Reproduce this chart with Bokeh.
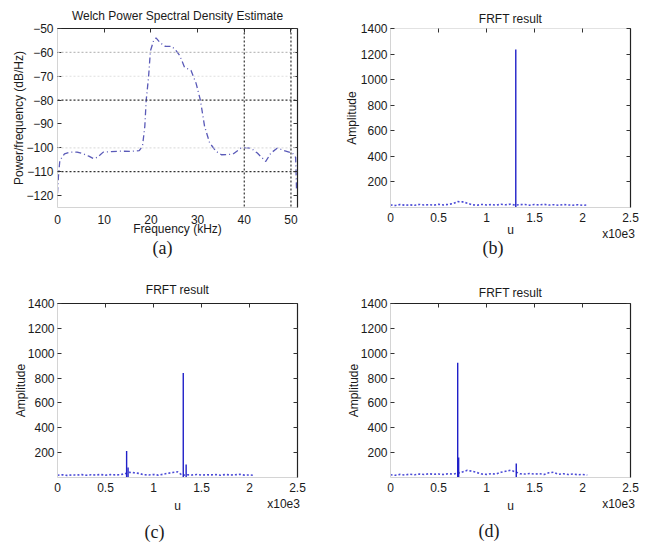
from bokeh.plotting import figure
from bokeh.models import Range1d, LinearAxis, Span, Title, FixedTicker, ColumnDataSource
from bokeh.layouts import gridplot
from bokeh.embed import file_html
from bokeh.resources import INLINE

# ---------------- data ----------------
# (a) Welch PSD estimate
psd_freq = [0.0, 0.2, 0.5, 1.5, 2.7, 4.2, 5.5, 6.7, 7.7, 8.5, 9.1, 9.8, 11.5, 13.3, 15.5,
            17.5, 18.2, 18.7, 19.0, 19.5, 19.9, 20.6, 21.1, 22.0, 23.1, 24.5, 25.4, 26.2,
            27.2, 27.9, 28.6, 29.7, 30.6, 31.5, 32.6, 34.0, 35.1, 36.5, 37.6, 39.3, 40.5,
            41.4, 42.8, 44.6, 45.7, 47.1, 48.5, 50.3, 51.0, 51.2]
psd_db = [-119, -112, -105.3, -102.5, -101.8, -101.8, -102.5, -103.5, -104.5, -104.0,
          -103.0, -101.8, -101.6, -101.4, -101.5, -101.2, -99.3, -91.0, -80.0, -70.4,
          -59.4, -55.0, -53.9, -56.0, -57.5, -57.5, -59.3, -61.4, -66.2, -66.9, -67.6,
          -73.1, -80.0, -91.0, -98.0, -101.5, -102.9, -102.8, -102.6, -100.1, -100.0,
          -100.1, -102.2, -105.7, -102.2, -100.1, -101.1, -102.2, -104.0, -118.0]
psd_xticks = [0, 10, 20, 30, 40, 50]
psd_yticks = [-120, -110, -100, -90, -80, -70, -60, -50]

# (b)-(d) FRFT results (u in units of 10^3)
noise_u = [0.00, 0.05, 0.10, 0.15, 0.20, 0.25, 0.30, 0.35, 0.40, 0.45, 0.50, 0.55, 0.60,
           0.65, 0.70, 0.75, 0.80, 0.85, 0.90, 0.95, 1.00, 1.05, 1.10, 1.15, 1.20, 1.25,
           1.30, 1.35, 1.40, 1.45, 1.50, 1.55, 1.60, 1.65, 1.70, 1.75, 1.80, 1.85, 1.90,
           1.95, 2.00, 2.05]
b_noise = [20, 16, 23, 18, 21, 17, 24, 19, 22, 18, 25, 20, 24, 30, 46, 44, 34, 21, 18, 24,
           20, 23, 19, 25, 21, 26, 19, 22, 24, 18, 23, 20, 25, 19, 22, 17, 23, 20, 18, 22,
           17, 20]
c_noise = [18, 22, 17, 21, 19, 23, 18, 22, 20, 24, 19, 23, 21, 22, 30, 42, 38, 33, 22, 20,
           24, 19, 26, 34, 40, 46, 18, 22, 20, 24, 19, 22, 21, 23, 18, 24, 20, 22, 25, 19,
           21, 17]
d_noise = [22, 18, 25, 20, 27, 22, 28, 24, 30, 26, 28, 24, 30, 27, 35, 45, 58, 50, 40, 28,
           25, 30, 28, 42, 50, 58, 46, 30, 28, 32, 27, 30, 25, 38, 42, 26, 30, 24, 28, 22,
           25, 20]
b_peak_u = [1.305]
b_peak_amp = [1235]
c_peak_u = [0.72, 0.735, 1.31, 1.34]
c_peak_amp = [213, 80, 840, 105]
d_peak_u = [0.70, 0.71, 1.31]
d_peak_amp = [923, 160, 112]
u_ticks = [0, 0.5, 1, 1.5, 2, 2.5]
u_tick_labels = ["0", "0.5", "1", "1.5", "2", "2.5"]
u_scale_label = "x10e3"
amp_ticks = [200, 400, 600, 800, 1000, 1200, 1400]
captions = ["(a)", "(b)", "(c)", "(d)"]

FONT = "Liberation Sans"
SERIF = "Liberation Serif"
TXT = "#1a1a1a"


def style_axis(ax, ticks, label_standoff, tick_standoff, tick_color="#333333"):
    ax.ticker = FixedTicker(ticks=ticks)
    ax.major_tick_in = 4
    ax.major_tick_out = 0
    ax.minor_tick_line_color = None
    ax.major_tick_line_color = tick_color
    ax.axis_line_color = "#d4d4d4"
    ax.major_label_text_font = FONT
    ax.major_label_text_font_size = "12px"
    ax.major_label_text_color = TXT
    ax.major_label_standoff = tick_standoff
    ax.axis_label_text_font = FONT
    ax.axis_label_text_font_size = "12px"
    ax.axis_label_text_font_style = "normal"
    ax.axis_label_text_color = TXT
    ax.axis_label_standoff = label_standoff


def frame_axis(p, where, ticks, color):
    ax = LinearAxis(ticker=FixedTicker(ticks=ticks))
    ax.major_tick_in = 4
    ax.major_tick_out = 0
    ax.minor_tick_line_color = None
    ax.major_tick_line_color = "#333333"
    ax.axis_line_color = color
    ax.axis_line_width = 1.2
    ax.major_label_text_font_size = "1px"
    ax.major_label_text_color = None
    ax.major_label_standoff = 0
    p.add_layout(ax, where)


def base_fig(width, height, xr, yr, left, right, top, bottom, title, title_standoff):
    p = figure(width=width, height=height, x_range=Range1d(*xr), y_range=Range1d(*yr),
               output_backend="svg", toolbar_location=None, title=title,
               min_border_left=left, min_border_right=right,
               min_border_top=top, min_border_bottom=bottom)
    p.outline_line_color = None
    p.grid.visible = False
    p.title.align = "center"
    p.title.text_font = FONT
    p.title.text_font_size = "12px"
    p.title.text_font_style = "normal"
    p.title.text_color = TXT
    p.title.standoff = title_standoff
    return p


def add_caption(p, text, offset, standoff):
    p.add_layout(Title(text=text, align="left", offset=offset, standoff=standoff,
                       text_font=SERIF, text_font_size="18px", text_font_style="normal",
                       text_color=TXT), "below")


# ---------------- panel (a) ----------------
pa = base_fig(320, 270, (0, 51.4), (-125, -50), 57, 19, 27, 63,
              "Welch Power Spectral Density Estimate", 12)
style_axis(pa.xaxis[0], psd_xticks, -5, 7, None)
style_axis(pa.yaxis[0], psd_yticks, -3, 4)
pa.xaxis[0].axis_label = "Frequency (kHz)"
pa.yaxis[0].axis_label = "Power/frequency (dB/Hz)"
frame_axis(pa, "above", psd_xticks, "#222222")
frame_axis(pa, "right", psd_yticks, "#222222")
for lvl, col in [(-60, "#bdbdbd"), (-70, "#e0e0e0"), (-80, "#333333"), (-100, "#e0e0e0"),
                 (-110, "#333333")]:
    pa.add_layout(Span(location=lvl, dimension="width", line_color=col,
                       line_dash="2 2", line_width=1.2))
for lvl in [40, 50]:
    pa.add_layout(Span(location=lvl, dimension="height", line_color="#333333",
                       line_dash="2 2", line_width=1.2))
pa.line(x=psd_freq, y=psd_db, line_color="#5a5ab8", line_width=1.3,
        line_dash="6 3 1 3")
add_caption(pa, captions[0], 95, -6)


# ---------------- panels (b)-(d) ----------------
def frft(width, height, left, right, top, bottom, title_standoff, ylabel_standoff,
         xlabel_standoff, scale_shift, noise, pu, pamp, cap, cap_offset, cap_standoff,
         top_color):
    p = base_fig(width, height, (0, 2.5), (0, 1400), left, right, top, bottom,
                 "FRFT result", title_standoff)
    scale_pos = round(u_ticks[-1] - scale_shift, 3)
    style_axis(p.xaxis[0], u_ticks + [scale_pos], xlabel_standoff, 3, None)
    style_axis(p.yaxis[0], amp_ticks, ylabel_standoff, 3)
    overrides = dict(zip(u_ticks, u_tick_labels))
    overrides[scale_pos] = "\n" + u_scale_label
    p.xaxis[0].major_label_overrides = overrides
    p.xaxis[0].axis_label = "u"
    p.yaxis[0].axis_label = "Amplitude"
    frame_axis(p, "above", u_ticks, top_color)
    frame_axis(p, "right", amp_ticks, "#222222")
    p.line(x=noise_u, y=noise, line_color="#2b2bd0", line_width=1.6, line_dash="2 2",
           line_alpha=0.85)
    src = ColumnDataSource(dict(u=pu, amp=pamp, base=[0] * len(pu)))
    p.segment(x0="u", y0="base", x1="u", y1="amp", source=src, line_color="#2020c8",
              line_width=1.4)
    add_caption(p, cap, cap_offset, cap_standoff)
    return p


pb = frft(331, 270, 68, 21, 28, 63, 5, -1, -21, 0.125, b_noise, b_peak_u, b_peak_amp,
          captions[1], 92, -10, "#e2e2e2")
pc = frft(320, 274, 57, 23, 32, 62, 13, -3, -15, 0.145, c_noise, c_peak_u, c_peak_amp,
          captions[2], 87, 6, "#222222")
pd = frft(331, 274, 70, 21, 33, 60, 8, -3, -15, 0.125, d_noise, d_peak_u, d_peak_amp,
          captions[3], 88, 5, "#222222")

grid = gridplot([[pa, pb], [pc, pd]], toolbar_location=None)
open("out.html", "w").write(file_html(grid, INLINE))
